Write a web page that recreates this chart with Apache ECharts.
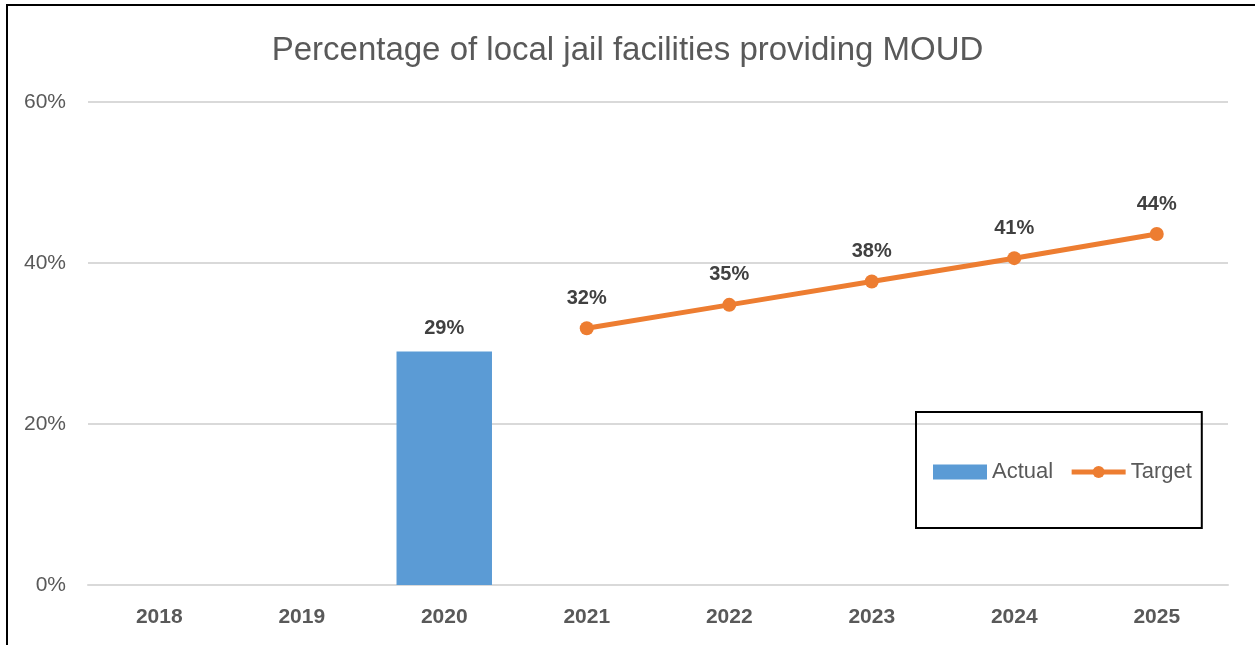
<!DOCTYPE html>
<html>
<head>
<meta charset="utf-8">
<script src="https://cdn.jsdelivr.net/npm/echarts@6/dist/echarts.min.js"></script>
<style>
  html, body { margin: 0; padding: 0; background: #fff; overflow: hidden; }
  #frame { position: absolute; left: 6px; top: 4px; width: 1270px; height: 680px; border: 2px solid #000; box-sizing: border-box; }
  #chart { position: absolute; left: 0; top: 0; width: 1255px; height: 645px; }
</style>
</head>
<body>
<div id="frame"></div>
<div id="chart"></div>
<script>
const years = ['2018', '2019', '2020', '2021', '2022', '2023', '2024', '2025']
const actual = [null, null, 0.29, null, null, null, null, null]
const target = [null, null, null, 0.319, 0.348, 0.377, 0.406, 0.436]
const yTicks = [0, 0.2, 0.4, 0.6]

const pct = v => Math.round(v * 100) + '%'
const font = 'Liberation Sans, Arial, sans-serif'

const chart = echarts.init(document.getElementById('chart'))
chart.setOption({
  animation: false,
  title: {
    text: 'Percentage of local jail facilities providing MOUD',
    left: 'center',
    top: 29,
    textStyle: { color: '#595959', fontSize: 33, fontWeight: 'normal', fontFamily: font }
  },
  legend: {
    left: 916,
    top: 412,
    orient: 'horizontal',
    borderColor: '#000',
    borderWidth: 2,
    padding: [49, 10, 45, 17],
    itemWidth: 54,
    itemHeight: 15,
    itemGap: 16,
    textStyle: { color: '#595959', fontSize: 22, fontFamily: font },
    data: [
      { name: 'Actual', icon: 'rect' },
      { name: 'Target', lineStyle: { width: 5, color: '#ED7D31' }, itemStyle: { color: '#ED7D31' } }
    ]
  },
  grid: { left: 88, right: 27, top: 102, bottom: 60 },
  xAxis: {
    type: 'category',
    data: years,
    axisLine: { show: true, lineStyle: { color: '#d9d9d9', width: 2 } },
    axisTick: { show: false },
    axisLabel: { color: '#595959', fontSize: 21, fontWeight: 'bold', fontFamily: font, margin: 22 }
  },
  yAxis: {
    type: 'value',
    min: 0,
    max: 0.6,
    interval: 0.2,
    axisLine: { show: false },
    axisTick: { show: false },
    splitLine: { lineStyle: { color: '#d9d9d9', width: 2 } },
    axisLabel: {
      color: '#595959', fontSize: 21, fontFamily: font, margin: 22,
      formatter: v => yTicks.some(t => Math.abs(t - v) < 1e-6) ? pct(v) : ''
    }
  },
  series: [
    {
      name: 'Actual',
      type: 'bar',
      data: actual,
      barWidth: '67%',
      itemStyle: { color: '#5B9BD5' },
      label: {
        show: true, position: 'top', distance: 13,
        color: '#404040', fontSize: 20, fontWeight: 'bold', fontFamily: font,
        formatter: p => pct(p.value)
      }
    },
    {
      name: 'Target',
      type: 'line',
      data: target,
      symbol: 'circle',
      symbolSize: 14,
      lineStyle: { color: '#ED7D31', width: 5 },
      itemStyle: { color: '#ED7D31' },
      label: {
        show: true, position: 'top', distance: 13,
        color: '#404040', fontSize: 20, fontWeight: 'bold', fontFamily: font,
        formatter: p => pct(p.value)
      }
    }
  ]
})
</script>
</body>
</html>
